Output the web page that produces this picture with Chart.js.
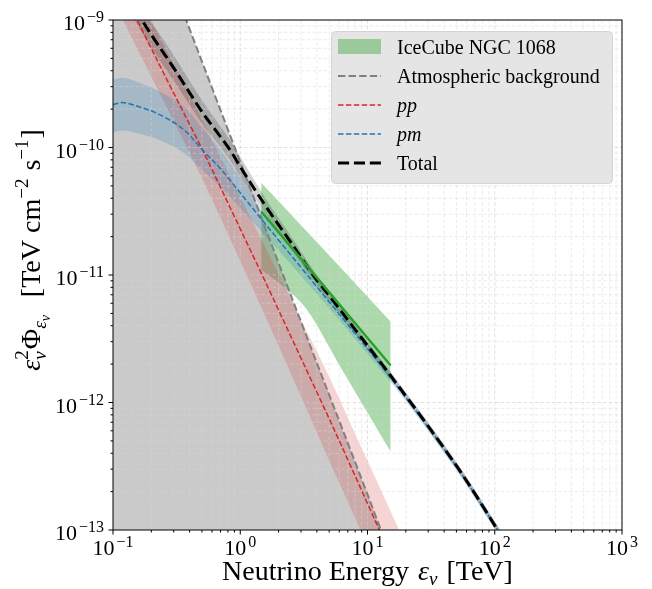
<!DOCTYPE html>
<html>
<head>
<meta charset="utf-8">
<script src="https://cdn.jsdelivr.net/npm/chart.js@4.4.0/dist/chart.umd.min.js"></script>
<style>
  html, body { margin: 0; padding: 0; background: #fff; }
  canvas { display: block; }
</style>
</head>
<body>
<canvas id="nuChart" width="652" height="589"></canvas>
<script>
// energies in TeV, fluxes are E^2 Phi in TeV cm^-2 s^-1
const atmEnergy = [0.1, 0.3, 1, 3, 10, 20];
const atmFlux = [3.2e-8, 1.8e-9, 7.7e-11, 4.3e-12, 1.9e-13, 3.0e-14];

const ppEnergy = [0.1, 0.1545, 0.3, 0.512, 1.0, 1.546, 3.0, 5.02, 8.0, 12.4, 20];
const ppFlux = [2.4e-9, 1.0e-9, 2.67e-10, 9.3e-11, 2.3e-11, 9.2e-12, 2.23e-12, 7.4e-13, 2.65e-13, 1.0e-13, 3.5e-14];
const ppHigh = [3.98e-9, 1.66e-9, 4.43e-10, 1.58e-10, 4.09e-11, 1.71e-11, 4.45e-12, 1.58e-12, 5.67e-13, 2.19e-13, 7.66e-14];
const ppLow = [1.45e-9, 6.0e-10, 1.61e-10, 5.47e-11, 1.29e-11, 4.94e-12, 1.12e-12, 3.46e-13, 1.24e-13, 4.57e-14, 1.6e-14];

const pmEnergy = [0.1, 0.118, 0.157, 0.23, 0.376, 0.502, 0.697, 0.98, 1.41, 3.49, 5.02, 12.4, 16.9, 29.2, 56, 105.7, 131];
const pmFlux = [2.17e-10, 2.25e-10, 2.10e-10, 1.82e-10, 1.33e-10, 9.6e-11, 6.84e-11, 4.52e-11, 2.88e-11, 9.55e-12, 6.12e-12, 2.02e-12, 1.36e-12, 6.64e-13, 2.67e-13, 9.95e-14, 7.06e-14];
const pmHigh = [3.40e-10, 3.52e-10, 3.25e-10, 2.76e-10, 2.01e-10, 1.42e-10, 9.66e-11, 5.96e-11, 3.54e-11, 1.10e-11, 6.87e-12, 2.19e-12, 1.46e-12, 7.12e-13, 2.86e-13, 1.07e-13, 7.57e-14];
const pmLow = [1.31e-10, 1.36e-10, 1.29e-10, 1.15e-10, 8.78e-11, 6.64e-11, 4.96e-11, 3.43e-11, 2.29e-11, 8.32e-12, 5.45e-12, 1.86e-12, 1.27e-12, 6.19e-13, 2.49e-13, 9.28e-14, 6.59e-14];

const totEnergy = [0.1, 0.169, 0.3, 0.5, 0.865, 0.98, 1.546, 2.5, 4.04, 5.02, 8.0, 12.4, 16.9, 29.2, 56, 105.7, 131];
const totFlux = [2.62e-9, 1.0e-9, 4.21e-10, 1.91e-10, 9.0e-11, 7.3e-11, 3.6e-11, 1.8e-11, 9.0e-12, 6.86e-12, 3.73e-12, 2.12e-12, 1.41e-12, 6.76e-13, 2.70e-13, 9.95e-14, 7.06e-14];
const totHigh = [3.30e-9, 1.26e-9, 5.30e-10, 2.35e-10, 1.08e-10, 8.77e-11, 4.13e-11, 2.02e-11, 9.86e-12, 7.52e-12, 4.04e-12, 2.27e-12, 1.51e-12, 7.25e-13, 2.89e-13, 1.07e-13, 7.57e-14];
const totLow = [2.08e-9, 7.94e-10, 3.34e-10, 1.55e-10, 7.49e-11, 6.07e-11, 3.14e-11, 1.60e-11, 8.21e-12, 6.26e-12, 3.44e-12, 1.98e-12, 1.32e-12, 6.31e-13, 2.52e-13, 9.28e-14, 6.59e-14];

const icEnergy = [1.46, 15.2];
const icFlux = [3.15e-11, 1.95e-12];
const icBandEnergy = [1.46, 2.22, 3.31, 6, 9.8, 15.2];
const icHigh = [5.3e-11, 3.40e-11, 2.21e-11, 1.17e-11, 6.9e-12, 4.3e-12];
const icLow = [1.1e-11, 8.0e-12, 5.4e-12, 1.97e-12, 8.6e-13, 4.1e-13];

const xTickExponents = [-1, 0, 1, 2, 3];
const yTickExponents = [-13, -12, -11, -10, -9];

const legendLabels = ['IceCube NGC 1068', 'Atmospheric background', 'pp', 'pm', 'Total'];

const serif = '"Liberation Serif", "Times New Roman", serif';
const pts = (xs, ys) => xs.map((x, i) => ({ x: x, y: ys[i] }));
const none = 'rgba(0,0,0,0)';

function band(xs, ys, color, fill) {
    return {
        data: pts(xs, ys), borderColor: none, borderWidth: 0, backgroundColor: color,
        fill: fill, pointRadius: 0, cubicInterpolationMode: 'monotone'
    };
}

function line(xs, ys, color, width, dash) {
    return {
        data: pts(xs, ys), borderColor: color, borderWidth: width, borderDash: dash || [],
        fill: false, pointRadius: 0, cubicInterpolationMode: 'monotone'
    };
}

// text made of runs, for sub/superscripts
function runWidth(ctx, runs) {
    let w = 0, kept = 0;
    runs.forEach(r => {
        ctx.font = (r.it ? 'italic ' : '') + r.sz + 'px ' + serif;
        const rw = ctx.measureText(r.t).width;
        if (r.keep) {
            kept = rw;
        } else {
            w += Math.max(rw, kept) + (r.gap || 0);
            kept = 0;
        }
    });
    return w;
}

function drawRuns(ctx, runs, x, y) {
    let kept = 0;
    runs.forEach(r => {
        ctx.font = (r.it ? 'italic ' : '') + r.sz + 'px ' + serif;
        ctx.fillText(r.t, x, y + (r.dy || 0));
        const rw = ctx.measureText(r.t).width;
        if (r.keep) {
            kept = rw;
        } else {
            x += Math.max(rw, kept) + (r.gap || 0);
            kept = 0;
        }
    });
}

function powLabel(ctx, e, px, py, align) {
    const sup = (e < 0 ? '\u2212' : '') + Math.abs(e);
    ctx.font = '22px ' + serif;
    const wb = ctx.measureText('10').width;
    ctx.font = '16px ' + serif;
    const ws = ctx.measureText(sup).width;
    const w = wb + 2 + ws;
    const x0 = align === 'right' ? px - w : px - w / 2;
    ctx.font = '22px ' + serif;
    ctx.fillText('10', x0, py);
    ctx.font = '16px ' + serif;
    ctx.fillText(sup, x0 + wb + 2, py - 8);
}

const axesPlugin = {
    id: 'axesPlugin',
    beforeDatasetsDraw(chart) {
        // grid over the fills, under the lines
        const { ctx, chartArea: a, scales } = chart;
        ctx.save();
        ctx.beginPath();
        ctx.rect(a.left, a.top, a.right - a.left, a.bottom - a.top);
        ctx.clip();
        ctx.lineWidth = 0.8;
        ctx.setLineDash([3.5, 2.2]);
        xTickExponents.forEach(e => {
            for (let k = 1; k <= 9; k++) {
                const px = scales.x.getPixelForValue(k * Math.pow(10, e));
                if (px > a.right + 1) continue;
                ctx.strokeStyle = k === 1 ? 'rgba(205,205,205,0.75)' : 'rgba(215,215,215,0.6)';
                ctx.beginPath();
                ctx.moveTo(px, a.top);
                ctx.lineTo(px, a.bottom);
                ctx.stroke();
            }
        });
        yTickExponents.forEach(e => {
            for (let k = 1; k <= 9; k++) {
                const py = scales.y.getPixelForValue(k * Math.pow(10, e));
                if (py < a.top - 1) continue;
                ctx.strokeStyle = k === 1 ? 'rgba(205,205,205,0.75)' : 'rgba(215,215,215,0.6)';
                ctx.beginPath();
                ctx.moveTo(a.left, py);
                ctx.lineTo(a.right, py);
                ctx.stroke();
            }
        });
        ctx.restore();
    },
    afterDraw(chart) {
        const { ctx, chartArea: a, scales } = chart;
        ctx.save();
        // frame
        ctx.strokeStyle = '#000';
        ctx.lineWidth = 1;
        ctx.strokeRect(a.left, a.top, a.right - a.left, a.bottom - a.top);

        // ticks
        ctx.beginPath();
        xTickExponents.forEach(e => {
            for (let k = 1; k <= 9; k++) {
                const px = scales.x.getPixelForValue(k * Math.pow(10, e));
                if (px > a.right + 1) continue;
                ctx.moveTo(px, a.bottom);
                ctx.lineTo(px, a.bottom + (k === 1 ? 4.5 : 2.5));
            }
        });
        yTickExponents.forEach(e => {
            for (let k = 1; k <= 9; k++) {
                const py = scales.y.getPixelForValue(k * Math.pow(10, e));
                if (py < a.top - 1) continue;
                ctx.moveTo(a.left, py);
                ctx.lineTo(a.left - (k === 1 ? 4.5 : 2.5), py);
            }
        });
        ctx.stroke();

        // tick labels
        ctx.fillStyle = '#000';
        ctx.textAlign = 'left';
        ctx.textBaseline = 'alphabetic';
        xTickExponents.forEach(e => {
            powLabel(ctx, e, scales.x.getPixelForValue(Math.pow(10, e)), 555, 'center');
        });
        yTickExponents.forEach(e => {
            powLabel(ctx, e, 104, scales.y.getPixelForValue(Math.pow(10, e)) + 10, 'right');
        });

        // x title
        const xRuns = [
            { t: 'Neutrino Energy ', sz: 28, gap: 2 },
            { t: '\u03b5', sz: 28, it: true },
            { t: '\u03bd', sz: 19, it: true, dy: 5, gap: 2 },
            { t: ' [TeV]', sz: 28 }
        ];
        const xw = runWidth(ctx, xRuns);
        drawRuns(ctx, xRuns, (a.left + a.right) / 2 - xw / 2, 580);

        // y title
        const yRuns = [
            { t: '\u03b5', sz: 28, it: true },
            { t: '2', sz: 19, dy: -12, keep: true },
            { t: '\u03bd', sz: 19, it: true, dy: 6, gap: 1 },
            { t: '\u03a6', sz: 28 },
            { t: '\u03b5', sz: 19, it: true, dy: 6 },
            { t: '\u03bd', sz: 14, it: true, dy: 10, gap: 4 },
            { t: '  [TeV cm', sz: 28 },
            { t: '\u22122', sz: 19, dy: -12, gap: 1 },
            { t: ' s', sz: 28 },
            { t: '\u22121', sz: 19, dy: -12, gap: 1 },
            { t: ']', sz: 28 }
        ];
        const yw = runWidth(ctx, yRuns);
        ctx.translate(40, 250);
        ctx.rotate(-Math.PI / 2);
        drawRuns(ctx, yRuns, -yw / 2, 0);
        ctx.restore();

        // legend
        ctx.save();
        const lx = 331, ly = 31, lw = 281, lh = 152;
        ctx.beginPath();
        ctx.roundRect(lx + 0.5, ly + 0.5, lw, lh, 4);
        ctx.fillStyle = '#e5e5e5';
        ctx.fill();
        ctx.strokeStyle = '#d4d4d4';
        ctx.lineWidth = 1;
        ctx.stroke();

        const rows = [47, 76, 105, 134, 163];
        ctx.fillStyle = 'rgba(44,160,44,0.4)';
        ctx.fillRect(338, 39, 43, 15);
        const handles = [
            null,
            ['#808080', 2, [7.4, 3.2]],
            ['#d62728', 1.5, [5.5, 2.4]],
            ['#1f77b4', 1.5, [5.5, 2.4]],
            ['#000000', 3, [11.1, 4.8]]
        ];
        handles.forEach((h, i) => {
            if (!h) return;
            ctx.strokeStyle = h[0];
            ctx.lineWidth = h[1];
            ctx.setLineDash(h[2]);
            ctx.beginPath();
            ctx.moveTo(338, rows[i]);
            ctx.lineTo(381, rows[i]);
            ctx.stroke();
        });
        ctx.setLineDash([]);
        ctx.fillStyle = '#000';
        legendLabels.forEach((t, i) => {
            const italic = t === 'pp' || t === 'pm';
            ctx.font = (italic ? 'italic ' : '') + '20px ' + serif;
            ctx.fillText(t, 397, rows[i] + 7);
        });
        ctx.restore();
    }
};

const ctx = document.getElementById('nuChart').getContext('2d');
const nuChart = new Chart(ctx, {
    type: 'line',
    data: {
        // lines first (drawn on top), fills after; the last one is painted first
        datasets: [
            line(icEnergy, icFlux, '#2ca02c', 2.5),
            line(totEnergy, totFlux, '#000000', 3, [11.1, 4.8]),
            line(pmEnergy, pmFlux, '#1f77b4', 1.5, [5.5, 2.4]),
            line(ppEnergy, ppFlux, '#d62728', 1.5, [5.5, 2.4]),
            line(atmEnergy, atmFlux, '#808080', 2, [7.4, 3.2]),
            band(totEnergy, totHigh, 'rgba(0,0,0,0.18)', '+1'),
            band(totEnergy, totLow, none, false),
            band(pmEnergy, pmHigh, 'rgba(31,119,180,0.22)', '+1'),
            band(pmEnergy, pmLow, none, false),
            band(ppEnergy, ppHigh, 'rgba(214,39,40,0.2)', '+1'),
            band(ppEnergy, ppLow, none, false),
            band(atmEnergy, atmFlux, 'rgba(128,128,128,0.42)', 'start'),
            band(icBandEnergy, icHigh, 'rgba(44,160,44,0.4)', '+1'),
            band(icBandEnergy, icLow, none, false)
        ]
    },
    options: {
        responsive: false,
        animation: false,
        devicePixelRatio: 1,
        layout: { padding: { top: 20, right: 30, left: 0, bottom: 0 } },
        scales: {
            x: {
                type: 'logarithmic', min: 0.1, max: 1000,
                ticks: { display: false }, grid: { display: false }, border: { display: false },
                afterFit: s => { s.height = 59; }
            },
            y: {
                type: 'logarithmic', min: 1e-13, max: 1e-9,
                ticks: { display: false }, grid: { display: false }, border: { display: false },
                afterFit: s => { s.width = 113; }
            }
        },
        plugins: {
            legend: { display: false },
            tooltip: { enabled: false },
            filler: { drawTime: 'beforeDatasetsDraw' }
        }
    },
    plugins: [axesPlugin]
});
</script>
</body>
</html>
